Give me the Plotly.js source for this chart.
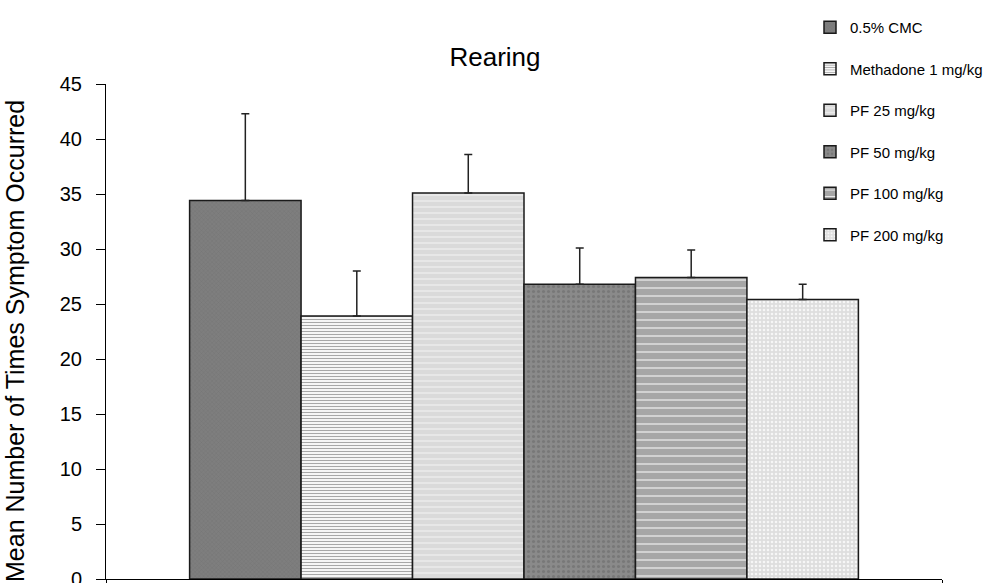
<!DOCTYPE html>
<html>
<head>
<meta charset="utf-8">
<script src="https://cdn.plot.ly/plotly-3.0.1.min.js"></script>
<style>
html,body{margin:0;padding:0;background:#fff;}
#chart{width:1007px;height:583px;}
</style>
</head>
<body>
<div id="chart"></div>
<script>
// Data
const category = ["Rearing"];
const groups = ["0.5% CMC", "Methadone 1 mg/kg", "PF 25 mg/kg", "PF 50 mg/kg", "PF 100 mg/kg", "PF 200 mg/kg"];
const means = [34.4, 23.9, 35.1, 26.8, 27.4, 25.4];
const errPlus = [7.9, 4.1, 3.5, 3.3, 2.5, 1.4];
const yTicks = [0, 5, 10, 15, 20, 25, 30, 35, 40, 45];

// Styles (fill patterns approximating the greyscale hatches)
const styles = [
  {color: "#7c7c7c", pattern: {shape: "x", bgcolor: "#7e7e7e", fgcolor: "#727272", size: 3, solidity: 0.25}},
  {color: "#ffffff", pattern: {shape: "-", bgcolor: "#ffffff", fgcolor: "#a8a8a8", size: 3, solidity: 0.4}},
  {color: "#dcdcdc", pattern: {shape: "-", bgcolor: "#dadada", fgcolor: "#ececec", size: 6, solidity: 0.25}},
  {color: "#888888", pattern: {shape: ".", bgcolor: "#8a8a8a", fgcolor: "#787878", size: 5, solidity: 0.3}},
  {color: "#a6a6a6", pattern: {shape: "-", bgcolor: "#a6a6a6", fgcolor: "#eeeeee", size: 8, solidity: 0.15}},
  {color: "#e0e0e0", pattern: {shape: ".", bgcolor: "#dedede", fgcolor: "#f6f6f6", size: 4, solidity: 0.35}}
];

const traces = groups.map((g, i) => ({
  type: "bar",
  name: g,
  legendgroup: "g" + i,
  x: category,
  y: [means[i]],
  marker: {
    color: styles[i].color,
    pattern: styles[i].pattern,
    line: {color: "#1a1a1a", width: 1.5}
  },
  error_y: {
    type: "data",
    symmetric: false,
    array: [errPlus[i]],
    arrayminus: [0],
    color: "#222222",
    thickness: 1.5,
    width: 4
  },
  hoverinfo: "name+y"
}));

const layout = {
  width: 1007,
  height: 583,
  margin: {l: 106, r: 65, t: 84, b: 4, pad: 0, autoexpand: false},
  paper_bgcolor: "#ffffff",
  plot_bgcolor: "#ffffff",
  font: {family: "Liberation Sans, Arial, sans-serif", color: "#000000", size: 18},
  barmode: "group",
  bargap: 0.2,
  bargroupgap: 0,
  title: {
    text: "Rearing",
    font: {size: 26, color: "#000"},
    x: 495 / 1007, xref: "container", xanchor: "center",
    y: 1 - 57 / 583, yref: "container", yanchor: "middle"
  },
  xaxis: {
    type: "category",
    showticklabels: false,
    showline: true, linecolor: "#000", linewidth: 1,
    ticks: "outside", tickson: "boundaries", ticklen: 6, tickcolor: "#000",
    showgrid: false, zeroline: false,
    fixedrange: true
  },
  yaxis: {
    range: [0, 45],
    tickvals: yTicks,
    ticktext: yTicks.map(String),
    showline: true, linecolor: "#000", linewidth: 1,
    ticks: "outside", ticklen: 9, tickcolor: "#000",
    ticklabelstandoff: 10,
    ticklabeloverflow: "allow",
    tickfont: {size: 20},
    showgrid: false, zeroline: false,
    fixedrange: true
  },
  showlegend: true,
  legend: {
    xref: "container", yref: "container",
    x: 810 / 1007, xanchor: "left",
    y: 1 - 11 / 583, yanchor: "top",
    traceorder: "grouped",
    tracegroupgap: 19,
    font: {size: 15},
    bgcolor: "rgba(0,0,0,0)",
    itemwidth: 30
  },
  annotations: [{
    text: "Mean Number of Times Symptom Occurred",
    textangle: -90,
    xref: "paper", yref: "paper",
    x: (15 - 106) / 836, y: (579 - 341) / 495,
    xanchor: "center", yanchor: "middle",
    showarrow: false,
    font: {size: 25, color: "#000"}
  }]
};

Plotly.newPlot("chart", traces, layout, {displayModeBar: false, staticPlot: true});
</script>
</body>
</html>
